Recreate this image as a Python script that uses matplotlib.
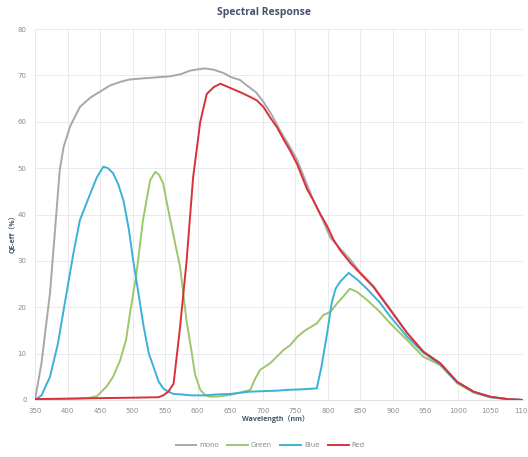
import matplotlib
matplotlib.use("Agg")
import matplotlib.pyplot as plt

# ---------------- data ----------------
mono_wl = [350, 360, 373, 381, 388, 394, 404, 419, 435, 450, 465, 481, 495, 511, 530, 558,
           575, 588, 600, 611, 625, 640, 650, 665, 676, 690, 701, 715, 727, 740, 753, 765,
           778, 790, 804, 820, 835, 850, 870, 896, 922, 947, 973, 999, 1024, 1050, 1076, 1100]
mono_val = [0, 8, 23, 37, 49.6, 54.6, 59, 63.2, 65.2, 66.5, 67.8, 68.6, 69.1, 69.3, 69.5, 69.8,
            70.3, 71.0, 71.3, 71.5, 71.2, 70.5, 69.7, 69.0, 67.8, 66.3, 64.3, 61.2, 58.0, 55.0, 51.7, 47.5,
            43.0, 39.5, 35.0, 32.5, 30.2, 27.5, 24.6, 19.6, 14.5, 10.4, 7.9, 3.9, 1.8, 0.7, 0.2, 0]

red_wl = [350, 400, 450, 500, 540, 547, 555, 563, 573, 583, 593, 604, 614, 625, 635, 650,
          665, 680, 691, 701, 711, 722, 732, 742, 753, 768, 778, 788, 799, 809, 819, 835,
          850, 870, 896, 922, 947, 973, 999, 1024, 1050, 1076, 1100]
red_val = [0.2, 0.3, 0.4, 0.5, 0.6, 1.0, 1.8, 3.5, 15.8, 30.0, 48.0, 60.0, 66.0, 67.5, 68.2, 67.3,
           66.4, 65.4, 64.6, 63.2, 61.0, 58.8, 56.2, 53.8, 50.8, 45.5, 43.0, 40.2, 37.5, 34.5, 32.3, 29.5,
           27.3, 24.4, 19.4, 14.4, 10.4, 7.9, 3.9, 1.8, 0.7, 0.2, 0]

blue_wl = [350, 360, 373, 385, 394, 409, 419, 435, 445, 455, 462, 470, 478, 486, 494, 501,
           509, 517, 525, 532, 540, 547, 555, 563, 575, 590, 610, 630, 650, 680, 700, 720,
           740, 760, 783, 790, 799, 806, 812, 819, 832, 845, 860, 880, 896, 922, 947, 973,
           999, 1024, 1050, 1076, 1100]
blue_val = [0, 1.0, 5.0, 12.0, 19.4, 31.6, 38.8, 44.5, 48.0, 50.3, 50.0, 48.9, 46.5, 43.0, 37.0, 30.0,
            23.0, 15.8, 10.0, 7.2, 4.0, 2.5, 1.8, 1.3, 1.2, 1.0, 1.0, 1.2, 1.3, 1.8, 1.9, 2.0,
            2.2, 2.3, 2.5, 7.0, 14.4, 21.0, 24.0, 25.5, 27.4, 26.0, 24.0, 21.0, 18.0, 13.6, 10.2, 7.6,
            3.8, 1.7, 0.6, 0.2, 0]

green_wl = [350, 400, 430, 445, 460, 470, 481, 490, 496, 506, 516, 527, 535, 541, 547, 552,
            558, 565, 573, 583, 590, 596, 604, 612, 619, 635, 650, 665, 681, 688, 696, 712,
            732, 742, 753, 765, 783, 793, 804, 814, 825, 834, 845, 860, 880, 896, 922, 947,
            973, 999, 1024, 1050, 1076, 1100]
green_val = [0.1, 0.2, 0.4, 0.8, 2.9, 5.0, 8.6, 13.0, 18.7, 27.3, 38.8, 47.4, 49.2, 48.5, 46.7, 43.0,
             38.8, 34.0, 28.7, 17.0, 11.0, 5.5, 2.2, 1.0, 0.7, 0.8, 1.1, 1.6, 2.2, 4.5, 6.5, 8.0,
             10.8, 11.8, 13.6, 15.0, 16.5, 18.3, 19.0, 20.8, 22.5, 24.0, 23.3, 21.6, 19.0, 16.5, 12.9, 9.3,
             7.5, 3.6, 1.6, 0.6, 0.2, 0]

series_names = ["mono", "Green", "Blue", "Red"]
x_ticks = list(range(350, 1101, 50))
y_ticks = list(range(0, 81, 10))

# ---------------- figure ----------------
fig = plt.figure(figsize=(5.28, 4.57), dpi=100)
ax = fig.add_axes([35 / 528, 57 / 457, 488 / 528, 371 / 457])

colors = {"mono": "#A8A8A8", "Green": "#9CC76E", "Blue": "#3CB1D6", "Red": "#D9303C"}
data = {"mono": (mono_wl, mono_val), "Green": (green_wl, green_val),
        "Blue": (blue_wl, blue_val), "Red": (red_wl, red_val)}
for name in series_names:
    wl, v = data[name]
    ax.plot(wl, v, color=colors[name], lw=1.4, label=name, solid_joinstyle="round")

ax.set_xlim(350, 1100)
ax.set_ylim(0, 80)
ax.set_xticks(x_ticks)
ax.set_yticks(y_ticks)
ax.set_xticklabels([str(t) for t in x_ticks])
ax.grid(True, color="#E6E6E6", lw=0.6)
ax.set_axisbelow(True)
for s in ["top", "right", "left"]:
    ax.spines[s].set_visible(False)
ax.spines["bottom"].set_color("#D9D9D9")
ax.spines["bottom"].set_linewidth(0.6)
ax.tick_params(length=0, labelsize=5, colors="#8C8C8C", pad=6)

fam = ["Open Sans", "Noto Sans CJK SC", "DejaVu Sans"]
fig.text(0.5, 1 - 12 / 457, "Spectral Response", ha="center", va="center",
         fontsize=7.5, fontweight="bold", color="#44546A", family=fam)
fig.text(275 / 528, 1 - 419 / 457, "Wavelength（nm）", ha="center", va="center",
         fontsize=5, fontweight="bold", color="#44546A", family=fam)
fig.text(14 / 528, 1 - 232 / 457, "QE-eff（%）", ha="center", va="center", rotation=90,
         fontsize=5, fontweight="bold", color="#44546A", family=fam)

leg = fig.legend(loc="center", bbox_to_anchor=(270 / 528, 1 - 445 / 457), ncol=4,
                 frameon=False, fontsize=5, handlelength=3, columnspacing=1.2,
                 handletextpad=0.4)
for t in leg.get_texts():
    t.set_color("#8C8C8C")

fig.savefig("out.png", dpi=100)
